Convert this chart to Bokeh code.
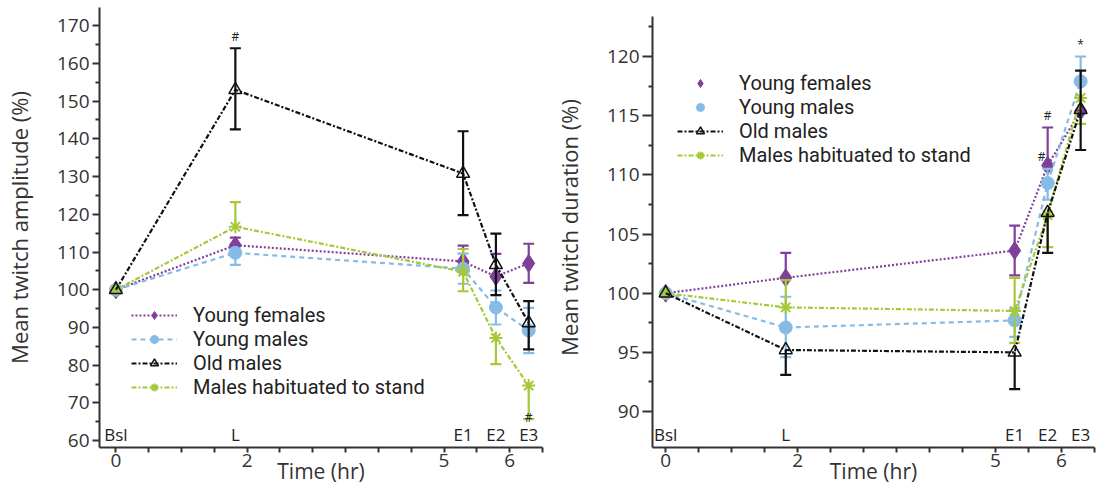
from bokeh.plotting import figure
from bokeh.layouts import row
from bokeh.models import FixedTicker, Legend, LegendItem
from bokeh.core.properties import value
from bokeh.embed import file_html
from bokeh.resources import INLINE

# ---------------- data ----------------
series_names = ["Young females", "Young males", "Old males", "Males habituated to stand"]
phase_labels = ["Bsl", "L", "E1", "E2", "E3"]
time_hr = [0.0, 1.82, 5.29, 5.79, 6.29]
x_tick_values = [0, 0.5, 1, 1.5, 2, 2.5, 3, 3.5, 4, 4.5, 5, 5.5, 6, 6.5]
x_tick_labels = {0: "0", 2: "2", 5: "5", 6: "6"}

# Left panel: mean twitch amplitude (%)
amp_young_f = [100, 111.8, 107.5, 103.5, 107.0]
amp_young_f_up = [0, 2.0, 4.2, 6.0, 5.2]
amp_young_f_dn = [0, 0, 0, 0, 5.2]
amp_young_m = [100, 109.8, 105.6, 95.3, 89.2]
amp_young_m_up = [0, 0, 4.0, 4.5, 6.0]
amp_young_m_dn = [0, 3.2, 4.0, 4.5, 6.0]
amp_old_m = [100, 153.0, 130.8, 106.6, 91.2]
amp_old_m_up = [0, 11.0, 11.2, 8.3, 5.8]
amp_old_m_dn = [0, 10.5, 11.0, 8.0, 7.0]
amp_hab = [100, 116.7, 104.8, 87.2, 74.6]
amp_hab_up = [0, 6.5, 6.0, 0, 0]
amp_hab_dn = [0, 0, 5.2, 6.9, 8.9]

# Right panel: mean twitch duration (%)
dur_young_f = [100, 101.3, 103.6, 110.8, 115.4]
dur_young_f_up = [0, 2.1, 2.1, 3.2, 0]
dur_young_f_dn = [0, 0, 2.1, 0, 0]
dur_young_m = [100, 97.1, 97.7, 109.3, 117.9]
dur_young_m_up = [0, 2.6, 1.0, 1.2, 2.1]
dur_young_m_dn = [0, 2.5, 1.4, 1.4, 0]
dur_old_m = [100, 95.2, 95.0, 106.8, 115.5]
dur_old_m_up = [0, 0, 0, 0, 3.3]
dur_old_m_dn = [0, 2.1, 3.1, 3.4, 3.4]
dur_hab = [100, 98.8, 98.5, 106.6, 116.5]
dur_hab_up = [0, 2.3, 2.8, 0, 0]
dur_hab_dn = [0, 0, 2.7, 2.7, 2.2]

# significance marks
amp_marks_x = [1.82, 6.29]
amp_marks_y = [164.8, 64.0]
amp_marks_text = ["#", "#"]
dur_marks_x = [5.79, 5.70, 6.29]
dur_marks_y = [114.3, 110.8, 120.3]
dur_marks_text = ["#", "#", "*"]

FONT = "Open Sans"
LEGEND_FONT = "Roboto"
colors = ["#7f3f9b", "#86bbe6", "#111111", "#a6c93a"]
dashes = ["2 2", "5 4", "5 2 2 2", "5 2 2 2"]
markers = ["diamond", "circle", "triangle", "asterisk"]
msizes = [18, 13, 13, 13]
draw_order = [0, 1, 3, 2]   # habituated drawn before old males


def make_panel(width, x_rng, y_rng, y_bounds, border_l, border_r,
               yticks, yminor, ylabel, tick_out, label_standoff, series, legend_loc,
               legend_lines, marks, phase_y_base):
    p = figure(width=width, height=487, x_range=x_rng, y_range=y_rng,
               output_backend="svg", toolbar_location=None,
               min_border_left=border_l, min_border_right=border_r,
               min_border_top=7, min_border_bottom=40)
    p.outline_line_color = None
    p.grid.visible = False
    p.background_fill_color = "white"
    p.border_fill_color = "white"

    xa = p.xaxis[0]
    xa.ticker = FixedTicker(ticks=x_tick_values, minor_ticks=[])
    xa.major_label_overrides = {t: x_tick_labels.get(t, "") for t in x_tick_values}
    xa.major_tick_in = 0
    xa.major_tick_out = 5
    xa.minor_tick_out = 0
    xa.axis_line_width = 2
    xa.axis_line_color = "#333333"
    xa.major_tick_line_width = 2
    xa.major_tick_line_color = "#333333"
    xa.major_label_text_font = FONT
    xa.major_label_text_font_size = "19px"
    xa.major_label_text_color = "#333333"
    xa.major_label_standoff = 1
    xa.axis_label = "Time (hr)"
    xa.axis_label_text_font = FONT
    xa.axis_label_text_font_size = "21px"
    xa.axis_label_text_font_style = "normal"
    xa.axis_label_text_color = "#333333"
    xa.axis_label_standoff = -13

    ya = p.yaxis[0]
    ya.ticker = FixedTicker(ticks=yticks, minor_ticks=yminor)
    ya.bounds = y_bounds
    ya.major_tick_in = 0
    ya.major_tick_out = tick_out
    ya.minor_tick_in = 0
    ya.minor_tick_out = 4
    ya.axis_line_width = 2
    ya.axis_line_color = "#333333"
    ya.major_tick_line_width = 2
    ya.minor_tick_line_width = 2
    ya.major_tick_line_color = "#333333"
    ya.minor_tick_line_color = "#333333"
    ya.major_label_text_font = FONT
    ya.major_label_text_font_size = "19px"
    ya.major_label_text_color = "#333333"
    ya.major_label_standoff = 3
    ya.axis_label = ylabel
    ya.axis_label_text_font = FONT
    ya.axis_label_text_font_size = "22px"
    ya.axis_label_text_font_style = "normal"
    ya.axis_label_text_color = "#333333"
    ya.axis_label_standoff = label_standoff

    # phase labels just above the x axis
    p.text(x=time_hr, y=[phase_y_base] * len(time_hr), text=phase_labels,
           text_font=value(FONT), text_font_size="17px", text_color="#222222",
           text_align="center", text_baseline="bottom", y_offset=-2)

    items = {}
    for i in draw_order:
        vals, up, dn = series[i]
        col = colors[i]
        sx0, sy0, sy1, cx, cy = [], [], [], [], []
        for t, v, u, d in zip(time_hr, vals, up, dn):
            if u > 0:
                sx0.append(t); sy0.append(v); sy1.append(v + u); cx.append(t); cy.append(v + u)
            if d > 0:
                sx0.append(t); sy0.append(v); sy1.append(v - d); cx.append(t); cy.append(v - d)
        p.segment(x0=sx0, y0=sy0, x1=sx0, y1=sy1, line_color=col, line_width=2.2)
        p.scatter(x=cx, y=cy, marker="dash", size=11, line_color=col, line_width=2.2)
        lr = p.line(x=time_hr, y=vals, line_color=col, line_width=2.2, line_dash=dashes[i])
        if markers[i] == "triangle":
            sr = p.scatter(x=time_hr, y=vals, marker="triangle", size=msizes[i],
                           line_color=col, fill_color="white", fill_alpha=0.0, line_width=1.5)
        elif markers[i] == "asterisk":
            sr = p.scatter(x=time_hr, y=vals, marker="asterisk", size=msizes[i],
                           line_color=col, line_width=2)
        else:
            sr = p.scatter(x=time_hr, y=vals, marker=markers[i], size=msizes[i],
                           line_color=col, fill_color=col)
        rends = [lr, sr] if legend_lines[i] else [sr]
        items[i] = LegendItem(label=series_names[i], renderers=rends)

    leg = Legend(items=[items[i] for i in range(4)], location=legend_loc)
    leg.label_text_font = LEGEND_FONT
    leg.label_text_font_size = "20px"
    leg.label_text_color = "#222222"
    leg.glyph_width = 46
    leg.glyph_height = 20
    leg.label_height = 20
    leg.spacing = 0
    leg.padding = 0
    leg.margin = 0
    leg.label_standoff = 16
    leg.border_line_color = None
    leg.background_fill_alpha = 0
    p.add_layout(leg, "center")

    mx, my, mt = marks
    p.text(x=mx, y=my, text=mt, text_font=value(FONT), text_font_size="12px",
           text_color="#222222", text_align="center", text_baseline="bottom")
    return p


left_series = [(amp_young_f, amp_young_f_up, amp_young_f_dn),
               (amp_young_m, amp_young_m_up, amp_young_m_dn),
               (amp_old_m, amp_old_m_up, amp_old_m_dn),
               (amp_hab, amp_hab_up, amp_hab_dn)]
right_series = [(dur_young_f, dur_young_f_up, dur_young_f_dn),
                (dur_young_m, dur_young_m_up, dur_young_m_dn),
                (dur_old_m, dur_old_m_up, dur_old_m_dn),
                (dur_hab, dur_hab_up, dur_hab_dn)]

p1 = make_panel(550, (-0.25, 6.5), (58.2, 174.8), (58.2, 174.8), 96, 8,
                list(range(60, 171, 10)), list(range(65, 170, 10)),
                "Mean twitch amplitude (%)", 7, 20, left_series, (32, 48),
                [True, True, True, True], (amp_marks_x, amp_marks_y, amp_marks_text),
                58.2)

p2 = make_panel(554, (-0.2, 6.5), (86.96, 124.14), (86.96, 123.4), 102, 10,
                [90, 95, 100, 105, 110, 115, 120], [92.5, 97.5, 102.5, 107.5, 112.5, 117.5, 122.5],
                "Mean twitch duration (%)", 10, 20, right_series, (25, 280),
                [False, False, True, True], (dur_marks_x, dur_marks_y, dur_marks_text),
                86.96)

layout = row(p1, p2)
open("out.html", "w").write(file_html(layout, INLINE))
